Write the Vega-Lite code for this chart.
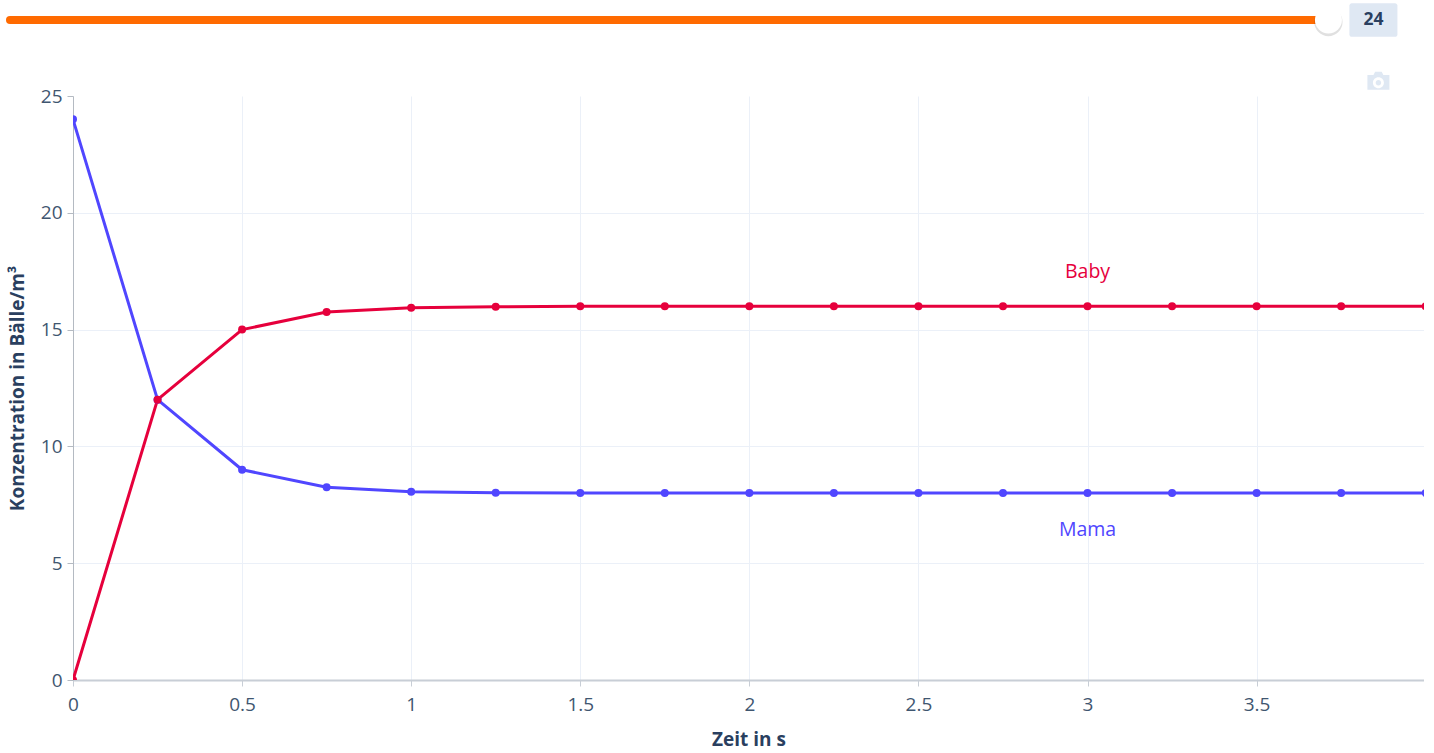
{
"$schema":"https://vega.github.io/schema/vega-lite/v6.json",
"padding":{"left":5,"top":0,"right":0,"bottom":3},
"background":"white",
"spacing":-3,
"config":{"view":{"stroke":null},"font":"Open Sans"},
"vconcat":[
{"width":1351,"height":40,
 "data":{"values":[{"von":0,"wert":24,"beschriftung":"24"}]},
 "encoding":{"x":{"field":"wert","type":"quantitative","axis":null,"scale":{"domain":[1.147,25.74],"nice":false,"zero":false,"clamp":false}}},
 "layer":[
  {"mark":{"type":"rule","stroke":"#ff6a00","strokeWidth":8,"strokeCap":"round"},
   "encoding":{"x":{"field":"von","type":"quantitative"},"x2":{"field":"wert"}}},
  {"mark":{"type":"point","shape":"circle","filled":true,"fill":"#000000","opacity":0.12,"size":800,"yOffset":2,"stroke":null}},
  {"mark":{"type":"point","shape":"circle","filled":true,"fill":"#ffffff","opacity":1,"size":729,"stroke":null}},
  {"mark":{"type":"point","filled":true,"opacity":1,"fill":"#dfe8f3","stroke":null,"size":2304,"xOffset":45,"shape":"M-1,-.6A.1,.1 0 0 1 -.9,-.7L.9,-.7A.1,.1 0 0 1 1,-.6L1,.6A.1,.1 0 0 1 .9,.7L-.9,.7A.1,.1 0 0 1 -1,.6Z"}},
  {"mark":{"type":"text","font":"Open Sans","fontSize":17.5,"fontWeight":"bold","fill":"#2a3f5f","xOffset":45},
   "encoding":{"text":{"field":"beschriftung"}}},
  {"mark":{"type":"point","filled":true,"opacity":1,"fill":"#dfe8f3","stroke":null,"size":484,"xOffset":50,"yOffset":61,
   "shape":"M-1,-.55L-.45,-.55L-.3,-.85L.3,-.85L.45,-.55L1,-.55L1,.8L-1,.8Z M0,-.35A.5,.5 0 0 0 0,.65A.5,.5 0 0 0 0,-.35Z M0,-.1A.25,.25 0 0 1 0,.4A.25,.25 0 0 1 0,-.1Z"}}
 ]},
{"width":1351,"height":584,
 "data":{"values":[
 {"t":0,"s":"Mama","c":24},{"t":0.25,"s":"Mama","c":12},{"t":0.5,"s":"Mama","c":9},{"t":0.75,"s":"Mama","c":8.25},{"t":1,"s":"Mama","c":8.06},{"t":1.25,"s":"Mama","c":8.02},{"t":1.5,"s":"Mama","c":8},{"t":1.75,"s":"Mama","c":8},{"t":2,"s":"Mama","c":8},{"t":2.25,"s":"Mama","c":8},{"t":2.5,"s":"Mama","c":8},{"t":2.75,"s":"Mama","c":8},{"t":3,"s":"Mama","c":8},{"t":3.25,"s":"Mama","c":8},{"t":3.5,"s":"Mama","c":8},{"t":3.75,"s":"Mama","c":8},{"t":4,"s":"Mama","c":8},
 {"t":0,"s":"Baby","c":0},{"t":0.25,"s":"Baby","c":12},{"t":0.5,"s":"Baby","c":15},{"t":0.75,"s":"Baby","c":15.75},{"t":1,"s":"Baby","c":15.94},{"t":1.25,"s":"Baby","c":15.98},{"t":1.5,"s":"Baby","c":16},{"t":1.75,"s":"Baby","c":16},{"t":2,"s":"Baby","c":16},{"t":2.25,"s":"Baby","c":16},{"t":2.5,"s":"Baby","c":16},{"t":2.75,"s":"Baby","c":16},{"t":3,"s":"Baby","c":16},{"t":3.25,"s":"Baby","c":16},{"t":3.5,"s":"Baby","c":16},{"t":3.75,"s":"Baby","c":16},{"t":4,"s":"Baby","c":16}
 ]},
 "encoding":{
  "x":{"field":"t","type":"quantitative","title":"Zeit in s","scale":{"domain":[0,3.995],"nice":false,"zero":false},
   "axis":{"values":[0,0.5,1,1.5,2,2.5,3,3.5],"labelFont":"Open Sans","labelFontSize":19,"labelColor":"#3f5670","titleFont":"Open Sans","titleFontSize":19,"titleFontWeight":"bold","titleColor":"#2a3f5f","grid":true,"gridColor":"#ebf0f8","gridWidth":1,"domainColor":"#c8ced6","domainWidth":2,"tickColor":"#c8ced6","tickSize":6,"labelPadding":9,"titlePadding":16,"labelFlush":false,"format":"~g"}},
  "y":{"field":"c","type":"quantitative","title":"Konzentration in Bälle/m³","scale":{"domain":[0,25],"nice":false},
   "axis":{"values":[0,5,10,15,20,25],"labelFont":"Open Sans","labelFontSize":19,"labelColor":"#3f5670","titleFont":"Open Sans","titleFontSize":19,"titleFontWeight":"bold","titleColor":"#2a3f5f","grid":true,"gridColor":"#ebf0f8","gridWidth":1,"gridOpacity":{"condition":{"test":"datum.value >= 25","value":0},"value":1},"domainColor":"#b4bac2","domainWidth":1,"tickColor":"#b4bac2","tickSize":6,"labelPadding":5,"titlePadding":12.5}},
  "color":{"field":"s","type":"nominal","legend":null,"sort":["Mama","Baby"],"scale":{"domain":["Mama","Baby"],"range":["#5046ff","#e6003c"]}},
  "order":{"field":"s","sort":"descending"}
 },
 "layer":[
  {"mark":{"type":"line","strokeWidth":3,"clip":true,"strokeJoin":"round"}},
  {"mark":{"type":"point","filled":true,"opacity":1,"size":64,"clip":true}},
  {"data":{"values":[{"t":3,"c":17.46,"s":"Baby"},{"t":3,"c":6.42,"s":"Mama"}]},
   "mark":{"type":"text","font":"Open Sans","fontSize":19.5},
   "encoding":{"text":{"field":"s"}}}
 ]}
]
}
